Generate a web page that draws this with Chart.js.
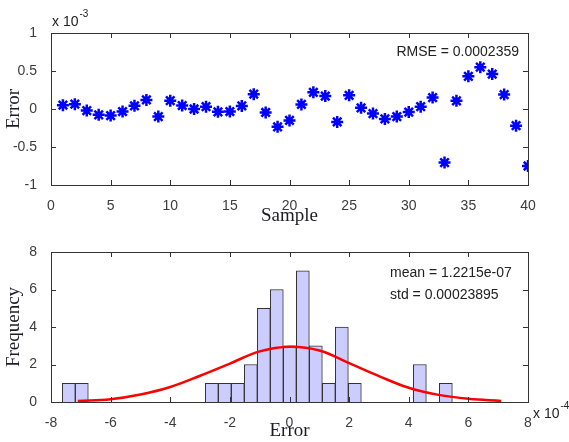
<!DOCTYPE html>
<html>
<head>
<meta charset="UTF-8">
<title>Error</title>
<script src="https://cdn.jsdelivr.net/npm/chart.js"></script>
<style>
  body { margin: 0; background: #fff; }
  #wrap { position: relative; width: 569px; height: 442px; background: #fff; }
  canvas { position: absolute; left: 0; }
  #c1 { top: 0; }
  #c2 { top: 226px; }
</style>
</head>
<body>
<div id="wrap">
  <canvas id="c1" width="569" height="226"></canvas>
  <canvas id="c2" width="569" height="216"></canvas>
</div>

<script>
// top plot: error per sample (units of 1e-3)
const samples = [1,2,3,4,5,6,7,8,9,10,11,12,13,14,15,16,17,18,19,20,
                 21,22,23,24,25,26,27,28,29,30,31,32,33,34,35,36,37,38,39,40];
const errors = [0.05,0.064,-0.02,-0.077,-0.086,-0.033,0.042,0.12,-0.10,0.11,
                0.046,0.0,0.03,-0.037,-0.033,0.04,0.195,-0.046,-0.235,-0.15,
                0.06,0.22,0.17,-0.17,0.18,0.015,-0.06,-0.13,-0.10,-0.04,
                0.03,0.15,-0.705,0.107,0.43,0.55,0.46,0.19,-0.22,-0.75];

// bottom plot: histogram of error (units of 1e-4)
const binCenters = [-7.403,-6.967,-6.531,-6.095,-5.659,-5.223,-4.787,-4.350,-3.914,-3.478,
                    -3.042,-2.606,-2.170,-1.734,-1.298,-0.862,-0.426,0.011,0.447,0.883,
                    1.319,1.755,2.191,2.627,3.063,3.499,3.935,4.372,4.808,5.244];
const binCounts = [1,1,0,0,0,0,0,0,0,0,
                   0,1,1,1,2,5,6,3,7,3,
                   1,4,1,0,0,0,0,2,0,1];

// fitted normal curve
const fitX = [-7.1,-6,-5,-4,-3,-2,-1,0,1,2,3,4,5,6,7.1];
const fitY = [0.06,0.15,0.4,0.8,1.4,2.05,2.7,2.95,2.75,2.07,1.38,0.76,0.38,0.17,0.06];

const tickFont = { family: 'Liberation Sans', size: 14 };
const tickColor = '#3c3c3c';
const titleFont = { family: 'Liberation Serif', size: 19, lineHeight: 1 };
const titleColor = '#1c1c24';
const plainLabel = v => String(v);

// frame, inside tick marks and the text notes
const frameTicks = {
    id: 'frameTicks',
    afterDraw(chart, args, opts) {
        const ctx = chart.ctx;
        const a = chart.chartArea;
        const xs = chart.scales.x, ys = chart.scales.y;
        const L = 5;
        ctx.save();
        ctx.strokeStyle = '#333';
        ctx.lineWidth = 1;
        ctx.beginPath();
        xs.ticks.forEach(t => {
            const px = Math.round(xs.getPixelForValue(t.value)) + 0.5;
            ctx.moveTo(px, a.bottom); ctx.lineTo(px, a.bottom - L);
            ctx.moveTo(px, a.top); ctx.lineTo(px, a.top + L);
        });
        ys.ticks.forEach(t => {
            const py = Math.round(ys.getPixelForValue(t.value)) + 0.5;
            ctx.moveTo(a.left, py); ctx.lineTo(a.left + L, py);
            ctx.moveTo(a.right, py); ctx.lineTo(a.right - L, py);
        });
        ctx.stroke();
        ctx.strokeRect(Math.round(a.left) + 0.5, Math.round(a.top) + 0.5,
                       Math.round(a.right - a.left), Math.round(a.bottom - a.top));

        ctx.fillStyle = '#222';
        ctx.textBaseline = 'middle';
        (opts.notes || []).forEach(n => {
            ctx.font = '14px "Liberation Sans"';
            ctx.textAlign = n.align || 'left';
            ctx.fillText(n.text, n.x, n.y);
            if (n.sup) {
                const w = ctx.measureText(n.text).width;
                ctx.font = '10px "Liberation Sans"';
                ctx.textAlign = 'left';
                ctx.fillText(n.sup, n.x + w + 1, n.y - 8);
            }
        });
        ctx.restore();
    }
};

function fixY(w) {
    return s => { s.width = w; s.paddingTop = 0; s.paddingBottom = 0; };
}
function fixX(h) {
    return s => { s.height = h; s.paddingLeft = 0; s.paddingRight = 0; };
}

// gráfico de cima
new Chart(document.getElementById('c1'), {
    type: 'scatter',
    data: {
        datasets: [{
            data: samples.map((s, i) => ({ x: s, y: errors[i] })),
            pointStyle: 'star',
            pointRadius: 6,
            borderWidth: 2.5,
            borderColor: '#0000ff',
            backgroundColor: '#0000ff'
        }]
    },
    options: {
        responsive: false,
        animation: false,
        layout: { padding: { left: 0, top: 33, right: 41, bottom: 0 } },
        plugins: {
            legend: { display: false },
            tooltip: { enabled: false },
            frameTicks: {
                notes: [
                    { text: 'x 10', sup: '-3', x: 52, y: 22 },
                    { text: 'RMSE = 0.0002359', x: 519, y: 52, align: 'right' }
                ]
            }
        },
        scales: {
            x: {
                type: 'linear', min: 0, max: 40,
                grid: { display: false }, border: { display: false },
                ticks: { stepSize: 5, font: tickFont, color: tickColor, padding: 5, maxRotation: 0, callback: plainLabel },
                title: { display: true, text: 'Sample', font: titleFont, color: titleColor, padding: { top: 0, bottom: 0 } },
                afterFit: fixX(41)
            },
            y: {
                min: -1, max: 1,
                grid: { display: false }, border: { display: false },
                ticks: { stepSize: 0.5, font: tickFont, color: tickColor, padding: 6, callback: plainLabel },
                title: { display: true, text: 'Error', font: titleFont, color: titleColor, padding: { top: 5, bottom: 0 } },
                afterFit: fixY(51)
            }
        }
    },
    plugins: [frameTicks]
});

// histograma de baixo
new Chart(document.getElementById('c2'), {
    type: 'bar',
    data: {
        datasets: [{
            type: 'line',
            data: fitX.map((x, i) => ({ x: x, y: fitY[i] })),
            borderColor: '#ff0000',
            borderWidth: 2.5,
            pointRadius: 0,
            tension: 0.4,
            order: 0
        }, {
            type: 'bar',
            data: binCenters.map((x, i) => ({ x: x, y: binCounts[i] })),
            backgroundColor: '#ccccff',
            borderColor: '#333',
            borderWidth: 1,
            barPercentage: 1,
            categoryPercentage: 1,
            order: 1
        }]
    },
    options: {
        responsive: false,
        animation: false,
        layout: { padding: { left: 0, top: 26, right: 41, bottom: 0 } },
        plugins: {
            legend: { display: false },
            tooltip: { enabled: false },
            frameTicks: {
                notes: [
                    { text: 'mean = 1.2215e-07', x: 390, y: 47 },
                    { text: 'std = 0.00023895', x: 390, y: 69 },
                    { text: 'x 10', sup: '-4', x: 533, y: 188 }
                ]
            }
        },
        scales: {
            x: {
                type: 'linear', min: -8, max: 8, offset: false,
                grid: { display: false, offset: false }, border: { display: false },
                ticks: { stepSize: 2, font: tickFont, color: tickColor, padding: 5, maxRotation: 0, callback: plainLabel },
                title: { display: true, text: 'Error', font: titleFont, color: titleColor, padding: { top: 0, bottom: 1 } },
                afterFit: fixX(40)
            },
            y: {
                min: 0, max: 8,
                grid: { display: false }, border: { display: false },
                ticks: { stepSize: 2, font: tickFont, color: tickColor, padding: 6, callback: plainLabel },
                title: { display: true, text: 'Frequency', font: titleFont, color: titleColor, padding: { top: 5, bottom: 0 } },
                afterFit: fixY(51)
            }
        }
    },
    plugins: [frameTicks]
});
</script>
</body>
</html>
